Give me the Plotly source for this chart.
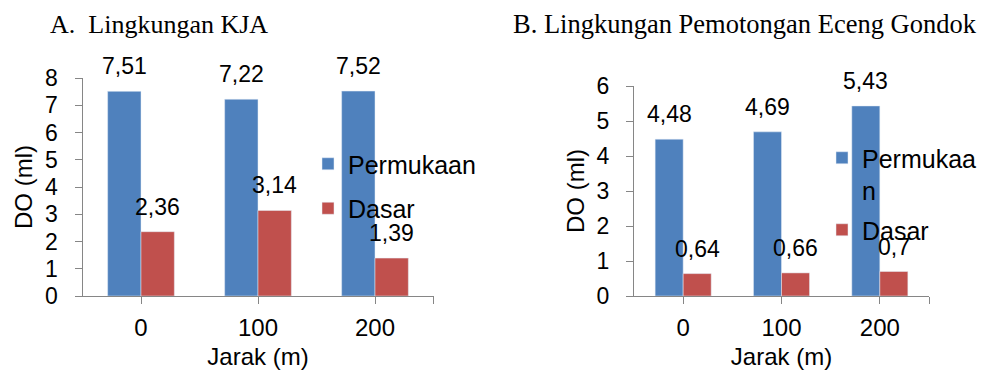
import plotly.graph_objects as go

W, H = 988, 370

categories = ["0", "100", "200"]
kja_permukaan = [7.51, 7.22, 7.52]
kja_dasar = [2.36, 3.14, 1.39]
eg_permukaan = [4.48, 4.69, 5.43]
eg_dasar = [0.64, 0.66, 0.70]

title_a = "A.  Lingkungan KJA"
title_b = "B. Lingkungan Pemotongan Eceng Gondok"
y_title = "DO (ml)"
x_title = "Jarak (m)"

BLUE = "#4F81BD"
RED = "#C0504D"
AXC = "#868686"
SANS = "Liberation Sans, Arial, sans-serif"
SERIF = "Liberation Serif, Times New Roman, serif"
BARGAP = 0.43


def px_x(p):
    return p / W


def px_y(p):
    return 1 - p / H


xs = list(range(len(categories)))
fig = go.Figure()

fig.add_trace(go.Bar(x=xs, y=kja_permukaan, name="Permukaan", marker_color=BLUE,
                     xaxis="x", yaxis="y", legend="legend", legendgroup="a1"))
fig.add_trace(go.Bar(x=xs, y=kja_dasar, name="Dasar", marker_color=RED,
                     xaxis="x", yaxis="y", legend="legend", legendgroup="a2"))
fig.add_trace(go.Bar(x=xs, y=eg_permukaan, name="Permukaa<br>n", marker_color=BLUE,
                     xaxis="x2", yaxis="y2", legend="legend2", legendgroup="b1"))
fig.add_trace(go.Bar(x=xs, y=eg_dasar, name="Dasar", marker_color=RED,
                     xaxis="x2", yaxis="y2", legend="legend2", legendgroup="b2"))


def fmt(v):
    return f"{v:g}".replace(".", ",")


half = (1 - BARGAP) / 4
annos = []
for xa, ya, series_list in (("x", "y", (kja_permukaan, kja_dasar)),
                            ("x2", "y2", (eg_permukaan, eg_dasar))):
    for si, series in enumerate(series_list):
        off = -half if si == 0 else half
        for i, v in enumerate(series):
            annos.append(dict(x=xs[i] + off, y=v, xref=xa, yref=ya, text=fmt(v),
                              showarrow=False, yanchor="middle", yshift=25,
                              font=dict(family=SANS, size=23, color="#000")))

annos.append(dict(x=px_x(48), y=px_y(24), xref="paper", yref="paper", text=title_a,
                  xanchor="left", yanchor="middle", showarrow=False,
                  font=dict(family=SERIF, size=26, color="#000")))
annos.append(dict(x=px_x(511), y=px_y(24), xref="paper", yref="paper", text=title_b,
                  xanchor="left", yanchor="middle", showarrow=False,
                  font=dict(family=SERIF, size=26.5, color="#000")))


def xaxis_cfg(domain, anchor):
    return dict(domain=domain, anchor=anchor, range=[-0.5, len(categories) - 0.5],
                tickvals=xs + [len(categories) - 0.5], ticktext=categories + [""],
                ticks="outside", ticklen=7, tickcolor=AXC, showline=True,
                linecolor=AXC, linewidth=1, showgrid=False, zeroline=False,
                automargin=False,
                tickfont=dict(family=SANS, size=24, color="#000"),
                ticklabelstandoff=3,
                title=dict(text=x_title, font=dict(family=SANS, size=24, color="#000"),
                           standoff=10))


def yaxis_cfg(domain, anchor, top):
    return dict(domain=domain, anchor=anchor, range=[0, top], dtick=1,
                ticks="outside", ticklen=7, tickcolor=AXC, showline=True,
                linecolor=AXC, linewidth=1, showgrid=False, zeroline=False,
                automargin=False,
                tickfont=dict(family=SANS, size=23, color="#000"),
                ticklabelstandoff=12,
                title=dict(text=y_title, font=dict(family=SANS, size=24, color="#000"),
                           standoff=5))


def overlay_cfg(over, anchor, **kw):
    d = dict(overlaying=over, matches=over, anchor=anchor, ticks="inside",
             ticklen=7, tickcolor=AXC, showticklabels=False, showline=False,
             showgrid=False, zeroline=False, automargin=False)
    d.update(kw)
    return d


xd1 = [px_x(82.5), px_x(433.5)]
yd1 = [px_y(296), px_y(78)]
xd2 = [px_x(634), px_x(929)]
yd2 = [px_y(296), px_y(86)]

fig.update_layout(
    width=W, height=H,
    margin=dict(l=0, r=0, t=0, b=0, autoexpand=False),
    paper_bgcolor="white", plot_bgcolor="white",
    barmode="group", bargap=BARGAP, bargroupgap=0,
    xaxis=xaxis_cfg(xd1, "y"),
    yaxis=yaxis_cfg(yd1, "x", 8),
    xaxis2=xaxis_cfg(xd2, "y2"),
    yaxis2=yaxis_cfg(yd2, "x2", 6),
    # overlay axes giving the inner half of the crossing tick marks
    xaxis3=overlay_cfg("x", "y", tickvals=[len(categories) - 0.5]),
    yaxis3=overlay_cfg("y", "x", dtick=1),
    xaxis4=overlay_cfg("x2", "y2", tickvals=[len(categories) - 0.5]),
    yaxis4=overlay_cfg("y2", "x2", dtick=1),
    legend=dict(x=px_x(308), y=px_y(141), xanchor="left", yanchor="top",
                bgcolor="rgba(0,0,0,0)", tracegroupgap=9, traceorder="grouped",
                font=dict(family=SANS, size=25, color="#000")),
    legend2=dict(x=px_x(822), y=px_y(135), xanchor="left", yanchor="top",
                 bgcolor="rgba(0,0,0,0)", tracegroupgap=4, traceorder="grouped",
                 valign="top",
                 font=dict(family=SANS, size=25, color="#000")),
    annotations=annos,
    showlegend=True,
)

fig.write_html("out.html", config={"displayModeBar": False},
               post_script="document.body.style.margin='0';document.body.style.overflow='hidden';")
